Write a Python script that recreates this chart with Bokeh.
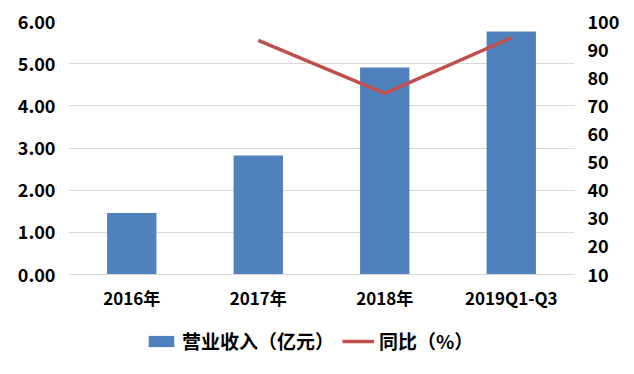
from bokeh.plotting import figure
from bokeh.layouts import column
from bokeh.models import (ColumnDataSource, FactorRange, Range1d, LinearAxis,
                          FixedTicker, NumeralTickFormatter, Legend, LegendItem, Grid)
from bokeh.embed import file_html
from bokeh.resources import INLINE

categories = ["2016年", "2017年", "2018年", "2019Q1-Q3"]
revenue = [1.46, 2.82, 4.91, 5.76]
yoy_categories = ["2017年", "2018年", "2019Q1-Q3"]
yoy = [93.3, 74.4, 94.2]
left_ticks = [0, 1, 2, 3, 4, 5, 6]
right_ticks = [10, 20, 30, 40, 50, 60, 70, 80, 90, 100]
revenue_label = "营业收入（亿元）"
yoy_label = "同比（%）"

FONT = "Noto Sans CJK SC"
BAR_COLOR = "#4f81bd"
LINE_COLOR = "#c0504d"

p = figure(x_range=FactorRange(*categories), y_range=Range1d(0, 6),
           width=634, height=314, output_backend="svg",
           toolbar_location=None,
           min_border_left=68, min_border_right=60, min_border_top=21,
           min_border_bottom=40, y_axis_location=None)
p.outline_line_color = None
p.extra_y_ranges = {"yoy": Range1d(10, 100)}

bar_src = ColumnDataSource(dict(x=categories, top=revenue))
p.vbar(x="x", top="top", width=0.39, source=bar_src,
       fill_color=BAR_COLOR, line_color=None)
line_src = ColumnDataSource(dict(x=yoy_categories, y=yoy))
p.line(x="x", y="y", source=line_src, y_range_name="yoy",
       line_color=LINE_COLOR, line_width=3.5)

la = LinearAxis(ticker=FixedTicker(ticks=left_ticks),
                formatter=NumeralTickFormatter(format="0.00"))
ra = LinearAxis(y_range_name="yoy", ticker=FixedTicker(ticks=right_ticks))
for ax in (la, ra):
    ax.axis_line_color = None
    ax.major_tick_line_color = None
    ax.minor_tick_line_color = None
    ax.major_tick_out = 0
    ax.major_label_text_font = FONT
    ax.major_label_text_font_style = "bold"
    ax.major_label_text_font_size = "18px"
    ax.major_label_text_color = "#000000"
    ax.major_label_standoff = 13
p.add_layout(la, "left")
p.add_layout(ra, "right")

xa = p.xaxis[0]
xa.axis_line_color = "#d9d9d9"
xa.major_tick_line_color = None
xa.minor_tick_line_color = None
xa.major_tick_out = 0
xa.major_label_text_font = FONT
xa.major_label_text_font_style = "bold"
xa.major_label_text_font_size = "17px"
xa.major_label_text_color = "#000000"
xa.major_label_standoff = 10

p.xgrid.grid_line_color = None
p.ygrid.grid_line_color = None
g = Grid(dimension=1, ticker=FixedTicker(ticks=left_ticks),
         grid_line_color="#d9d9d9", grid_line_width=1)
p.add_layout(g)

# legend strip below the chart (proxy glyphs sit outside the visible range)
lf = figure(width=634, height=58, output_backend="svg", toolbar_location=None,
            x_range=Range1d(0, 1), y_range=Range1d(0, 1),
            x_axis_location=None, y_axis_location=None,
            min_border=0)
lf.outline_line_color = None
lf.xgrid.grid_line_color = None
lf.ygrid.grid_line_color = None
lb = lf.vbar(x=[-10], top=[-10], bottom=[-11], width=0.1,
             fill_color=BAR_COLOR, line_color=None)
ll = lf.line(x=[-10, -9], y=[-10, -10], line_color=LINE_COLOR, line_width=3.5)

legend = Legend(items=[LegendItem(label=revenue_label, renderers=[lb]),
                       LegendItem(label=yoy_label, renderers=[ll])],
                orientation="horizontal", location=(77, 18))
legend.label_text_font = FONT
legend.label_text_font_style = "bold"
legend.label_text_font_size = "19px"
legend.label_text_color = "#000000"
legend.glyph_width = 32
legend.glyph_height = 14
legend.spacing = 8
legend.border_line_color = None
legend.background_fill_alpha = 0
legend.margin = 0
legend.padding = 6
lf.add_layout(legend)

layout = column(p, lf, spacing=0)
open("out.html", "w").write(file_html(layout, INLINE))
